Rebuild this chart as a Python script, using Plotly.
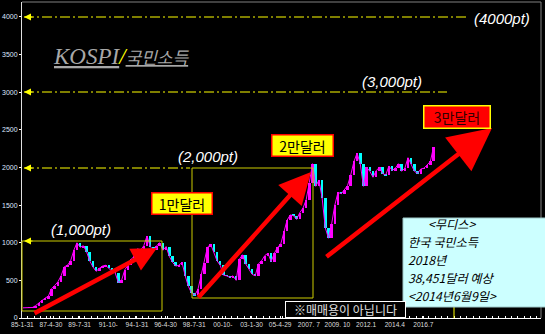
import plotly.graph_objects as go
import pandas as pd

# Quarterly KOSPI closes (1985 Q1 .. 2017 Q2)
kospi_close = [
    135, 135, 138, 140,      # 1985
    165, 200, 240, 265,      # 1986
    290, 390, 430, 480,      # 1987
    560, 680, 700, 760,      # 1988
    900, 1000, 940, 960,     # 1989
    880, 760, 680, 620,      # 1990
    660, 690, 700, 660,      # 1991
    620, 600, 470, 500,      # 1992
    640, 700, 780, 820,      # 1993
    920, 900, 960, 1090,     # 1994
    950, 900, 960, 1000,     # 1995
    900, 950, 820, 740,      # 1996
    690, 700, 740, 560,      # 1997
    420, 330, 305, 380,      # 1998
    580, 730, 940, 980,      # 1999
    880, 760, 700, 570,      # 2000
    560, 540, 560, 500,      # 2001
    780, 840, 720, 650,      # 2002
    580, 560, 720, 760,      # 2003
    830, 860, 750, 860,      # 2004
    940, 980, 1150, 1300,    # 2005
    1370, 1360, 1310, 1400,  # 2006
    1460, 1570, 1800, 2050,  # 2007
    1750, 1830, 1600, 1200,  # 2008
    1060, 1250, 1500, 1670,  # 2009
    1650, 1700, 1760, 1900,  # 2010
    2080, 2190, 2050, 1750,  # 2011
    2000, 1950, 1870, 1960,  # 2012
    2000, 1920, 1900, 2020,  # 2013
    1960, 1990, 2050, 1950,  # 2014
    1990, 2130, 2050, 1950,  # 2015
    1920, 1980, 1990, 2030,  # 2016
    2080, 2270,              # 2017
]
quarters = pd.date_range("1985-01-01", periods=len(kospi_close), freq="QS") + pd.Timedelta(days=45)

tick_dates = ["1985-01-31", "1987-04-30", "1989-07-31", "1991-10-31", "1994-01-31",
              "1996-04-30", "1998-07-31", "2000-10-31", "2003-01-30", "2005-04-29",
              "2007-07-31", "2009-10-30", "2012-01-31", "2014-04-30", "2016-07-29"]
tick_labels = ["85-1-31", "87-4-30", "89-7-31", "91-10-", "94-1-31", "96-4-30",
               "98-7-31", "00-10-", "03-1-30", "05-4-29", "2007. 7", "2009. 10",
               "2012.1", "2014.4", "2016.7"]

moodys_lines = ["&lt;무디스&gt;", "한국 국민소득", "2018년", "38,451달러 예상", "&lt;2014년6월9일&gt;"]

opens = [kospi_close[0]] + kospi_close[:-1]
lows = [min(o, c) for o, c in zip(opens, kospi_close)]
spans = [abs(c - o) for o, c in zip(opens, kospi_close)]
colors = ["#ff00ff" if c >= o else "#00ffff" for o, c in zip(opens, kospi_close)]

W, H = 545, 334
L, R, T, B = 22, 4, 2, 16
PW, PH = W - L - R, H - T - B


def PX(px):
    return (px - L) / PW


def PY(py):
    return (H - B - py) / PH


fig = go.Figure()
fig.add_trace(go.Bar(x=quarters, y=spans, base=lows, marker=dict(color=colors, line=dict(width=0)),
                     width=1000 * 3600 * 24 * 72, showlegend=False, hoverinfo="skip"))
fig.add_trace(go.Scatter(x=quarters, y=kospi_close, mode="lines",
                         line=dict(color="#ff00ff", width=1),
                         showlegend=False, hoverinfo="skip"))

shapes = []
YEL = "#ffff00"
BOXC = "#cccc00"
dashdot = "10px,3px,2px,3px"
for py, x_end in [(17, 468), (92, 447), (168, 190)]:
    shapes.append(dict(type="line", xref="paper", yref="paper", x0=PX(24), x1=PX(x_end),
                       y0=PY(py), y1=PY(py), line=dict(color=YEL, width=1, dash=dashdot)))
shapes.append(dict(type="rect", xref="paper", yref="paper", x0=PX(22), x1=PX(162),
                   y0=PY(311), y1=PY(241), line=dict(color=BOXC, width=1)))
shapes.append(dict(type="rect", xref="paper", yref="paper", x0=PX(192), x1=PX(313),
                   y0=PY(298), y1=PY(168), line=dict(color=BOXC, width=1)))
shapes.append(dict(type="line", xref="paper", yref="paper", x0=PX(454), x1=PX(454),
                   y0=PY(318), y1=PY(307), line=dict(color=YEL, width=1)))
shapes.append(dict(type="line", xref="paper", yref="paper", x0=0, x1=1, y0=1, y1=1,
                   line=dict(color="#808080", width=1)))
shapes.append(dict(type="line", xref="paper", yref="paper", x0=1, x1=1, y0=0, y1=1,
                   line=dict(color="#808080", width=1)))
shapes.append(dict(type="rect", xref="paper", yref="paper", x0=PX(403), x1=PX(546),
                   y0=PY(307), y1=PY(218), fillcolor="#ccffff",
                   line=dict(color="#9fc8c8", width=1), layer="above"))

ann = []
for py in [17, 92, 168, 241]:
    ann.append(dict(xref="paper", yref="paper", x=PX(24), y=PY(py), ax=10, ay=0,
                    showarrow=True, arrowhead=2, arrowsize=1.4, arrowwidth=1,
                    arrowcolor=YEL, text=""))
for tip, tail, size in [((157, 248), (33, 314), 1.1),
                        ((311, 172), (197, 299), 1.4),
                        ((492, 128), (325, 258), 1.9)]:
    ann.append(dict(xref="paper", yref="paper", x=PX(tip[0]), y=PY(tip[1]),
                    ax=tail[0] - tip[0], ay=tail[1] - tip[1], showarrow=True,
                    arrowhead=2, arrowsize=size, arrowwidth=4.5, arrowcolor="#ff0000",
                    text=""))

pt_font = dict(family="Liberation Sans, Arial", size=15, color="white", style="italic")
for txt, px, py in [("(1,000pt)", 81, 229), ("(2,000pt)", 208, 157),
                    ("(3,000pt)", 392, 81), ("(4000pt)", 502, 18)]:
    ann.append(dict(xref="paper", yref="paper", x=PX(px), y=PY(py), text=txt,
                    showarrow=False, font=pt_font, xanchor="center", yanchor="middle"))

lbl_font = dict(family="Noto Sans CJK KR", size=14, color="black")
ann.append(dict(xref="paper", yref="paper", x=PX(151), y=PY(215), text="1만달러",
                showarrow=False, font=lbl_font, bgcolor="#ffff00", bordercolor="#ff0000",
                borderwidth=1.5, borderpad=1, width=57, height=18))
ann.append(dict(xref="paper", yref="paper", x=PX(302), y=PY(145), text="2만달러",
                showarrow=False, font=lbl_font, bgcolor="#ffff00", bordercolor="#ff0000",
                borderwidth=1.5, borderpad=1, width=58, height=18))
ann.append(dict(xref="paper", yref="paper", x=PX(491), y=PY(105), text="3만달러",
                showarrow=False, font=dict(family="Noto Sans CJK KR", size=14, color="#300000"),
                bgcolor="#ff0000", bordercolor="#ffff00", borderwidth=1.5, borderpad=1,
                width=63, height=19))

ann.append(dict(xref="paper", yref="paper", x=PX(51), y=PY(56), xanchor="left", yanchor="middle",
                showarrow=False,
                text=("<u>KOSPI</u><span style='color:#ffff00'>/</span>"
                      "<u><span style='font-size:17px'>국민소득</span></u>"),
                font=dict(family="Liberation Serif, Noto Sans CJK KR", size=23,
                          color="#a8a8a8", style="italic")))

moodys_font = dict(family="Noto Sans CJK KR", size=12.2, color="black", style="italic")
for i, (line, py) in enumerate(zip(moodys_lines, [223.5, 241.5, 259.5, 277.5, 295.5])):
    ann.append(dict(xref="paper", yref="paper", x=PX(427 if i == 0 else 407), y=PY(py),
                    xanchor="left", yanchor="middle", showarrow=False, text=line,
                    font=moodys_font, borderpad=0))

ann.append(dict(xref="paper", yref="paper", x=PX(285), y=PY(301), xanchor="left", yanchor="top",
                showarrow=False, text="※매매용이 아닙니다",
                font=dict(family="Noto Sans CJK KR", size=12, color="#e0e0e0"),
                bgcolor="black", bordercolor="white", borderwidth=1, borderpad=0,
                width=119, height=15))

fig.update_layout(
    width=W, height=H, margin=dict(l=L, r=R, t=T, b=B),
    paper_bgcolor="black", plot_bgcolor="black", bargap=0,
    shapes=shapes, annotations=ann, showlegend=False,
    xaxis=dict(type="date", range=["1985-01-20", "2025-10-25"],
               tickvals=tick_dates, ticktext=tick_labels, tickangle=0,
               tickfont=dict(family="Liberation Sans, Arial", size=6.6, color="#dddddd"),
               showgrid=False, zeroline=False, showline=True, linecolor="white", linewidth=1,
               ticks="inside", ticklen=2, tickcolor="white",
               minor=dict(ticks="inside", ticklen=2, tickcolor="white", dtick="M6")),
    yaxis=dict(range=[0, 4199], tickvals=[0, 500, 1000, 1500, 2000, 2500, 3000, 3500, 4000],
               tickfont=dict(family="Liberation Sans, Arial", size=7, color="#dde6ff"),
               showgrid=False, zeroline=False, showline=True, linecolor="#e0e0e0", linewidth=1,
               ticks="outside", ticklen=2, tickcolor="white"),
)

fig.write_html("out.html")
